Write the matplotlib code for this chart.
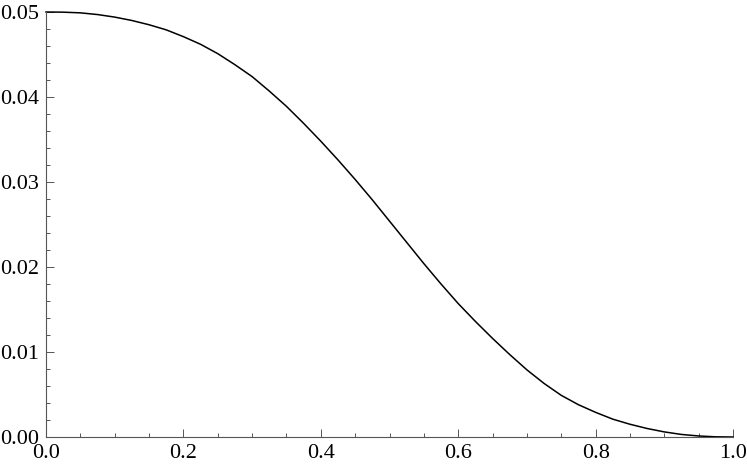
import matplotlib.pyplot as plt
from matplotlib.ticker import MultipleLocator, FormatStrFormatter

# values
x_vals = [0.0, 0.025, 0.05, 0.075, 0.1, 0.125, 0.15, 0.175, 0.2, 0.225,
          0.25, 0.275, 0.3, 0.325, 0.35, 0.375, 0.4, 0.425, 0.45, 0.475,
          0.5, 0.525, 0.55, 0.575, 0.6, 0.625, 0.65, 0.675, 0.7, 0.725,
          0.75, 0.775, 0.8, 0.825, 0.85, 0.875, 0.9, 0.925, 0.95, 0.975, 1.0]
y_vals = [0.0500, 0.04998, 0.0499, 0.0497, 0.0494, 0.0490, 0.0485, 0.0479, 0.0471, 0.0462,
          0.0451, 0.0438, 0.0424, 0.0407, 0.0389, 0.0369, 0.0348, 0.0326, 0.0303, 0.0279,
          0.0254, 0.0229, 0.0204, 0.0180, 0.0157, 0.0136, 0.0116, 0.0097, 0.0079, 0.0063,
          0.0049, 0.0038, 0.0029, 0.0021, 0.0015, 0.0010, 0.0006, 0.0003, 0.00012, 0.00002, 0.0]

plt.rcParams['font.family'] = ['Liberation Serif', 'DejaVu Serif']

fig = plt.figure(figsize=(7.47, 4.69), dpi=100)
ax = fig.add_axes([46 / 747, 32 / 469, 687 / 747, 425 / 469])

ax.plot(x_vals, y_vals, color='black', lw=1.1, clip_on=False,
        solid_joinstyle='round')

ax.set_xlim(0, 1)
ax.set_ylim(0, 0.05)

for side in ['top', 'right']:
    ax.spines[side].set_visible(False)
for side in ['left', 'bottom']:
    ax.spines[side].set_color('#555555')
    ax.spines[side].set_linewidth(0.8)

ax.xaxis.set_major_locator(MultipleLocator(0.2))
ax.xaxis.set_minor_locator(MultipleLocator(0.05))
ax.yaxis.set_major_locator(MultipleLocator(0.01))
ax.yaxis.set_minor_locator(MultipleLocator(0.002))
ax.xaxis.set_major_formatter(FormatStrFormatter('%.1f'))
ax.yaxis.set_major_formatter(FormatStrFormatter('%.2f'))

ax.tick_params(which='both', direction='in', color='#555555', width=0.7,
               labelsize=16, labelcolor='black')
ax.tick_params(which='major', length=5.5)
ax.tick_params(which='minor', length=3.2)
ax.tick_params(axis='x', which='major', pad=5)
ax.tick_params(axis='y', which='major', pad=5)

fig.savefig('out.png', dpi=100)
